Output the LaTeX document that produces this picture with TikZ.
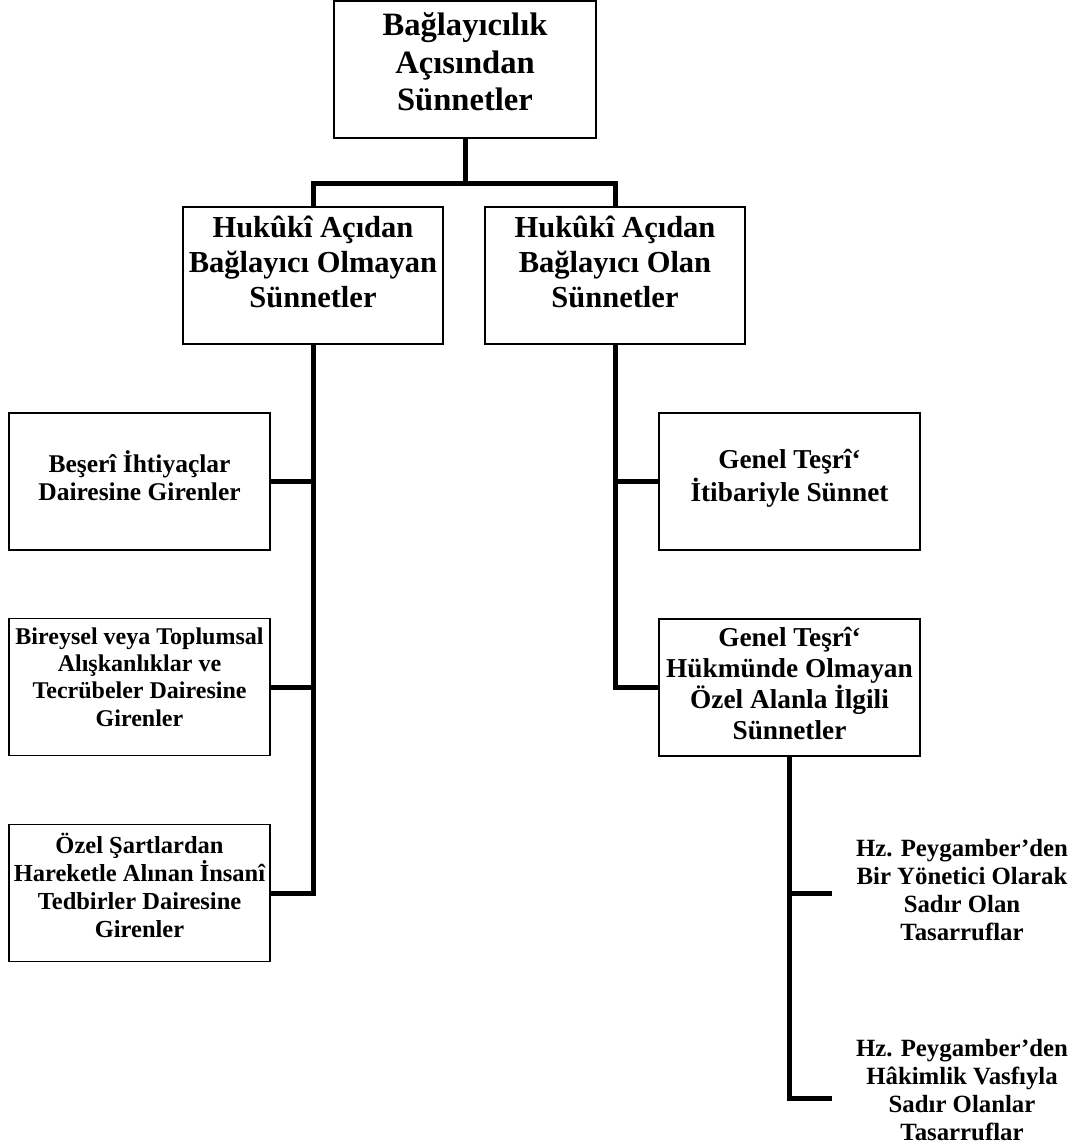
\documentclass[tikz,border=0pt]{standalone}
\usepackage{fontspec}
\setmainfont{Liberation Serif}
\begin{document}
\begin{tikzpicture}[x=1pt,y=-1pt,
  box/.style={draw, line width=1.2pt, minimum width=261pt, minimum height=137pt, inner sep=0pt},
  txt/.style 2 args={align=center, inner sep=0pt, font=\bfseries\fontsize{#1}{#2}\selectfont},
  conn/.style={line width=5pt}]
\useasboundingbox (0,0) rectangle (1078,1148);

% boxes
\node[box, minimum width=262pt] (top) at (465,69.5) {};
\node[box, minimum width=260pt] (lmid) at (313,275.5) {};
\node[box, minimum width=260pt] (rmid) at (615,275.5) {};
\node[box] (b1) at (139.5,481.5) {};
\node[box] (b2) at (139.5,687) {};
\node[box] (b3) at (139.5,893) {};
\node[box] (g1) at (789.5,481.5) {};
\node[box] (g2) at (789.5,687.5) {};

% box texts
\node[txt={32.6pt}{37.5pt}] (topt) at (465,62) {Bağlayıcılık\\Açısından\\Sünnetler};
\node[txt={30.5pt}{35pt}] (lmidt) at (313,262) {Hukûkî Açıdan\\Bağlayıcı Olmayan\\Sünnetler};
\node[txt={30.5pt}{35pt}] (rmidt) at (615,262) {Hukûkî Açıdan\\Bağlayıcı Olan\\Sünnetler};
\node[txt={25.5pt}{28pt}] (b1t) at (139.5,476) {Beşerî İhtiyaçlar\\Dairesine Girenler};
\node[txt={24pt}{27.3pt}] (b2t) at (139.5,677) {Bireysel veya Toplumsal\\Alışkanlıklar ve\\Tecrübeler Dairesine\\Girenler};
\node[txt={24.5pt}{28pt}] (b3t) at (139.5,885) {Özel Şartlardan\\Hareketle Alınan İnsanî\\Tedbirler Dairesine\\Girenler};
\node[txt={27.3pt}{33pt}] (g1t) at (789.5,478) {Genel Teşrî‘\\İtibariyle Sünnet};
\node[txt={27.3pt}{31pt}] (g2t) at (789.5,684) {Genel Teşrî‘\\Hükmünde Olmayan\\Özel Alanla İlgili\\Sünnetler};

% free-standing leaves
\node[txt={24.8pt}{28pt}] (hz1) at (962,890) {Hz. Peygamber’den\\Bir Yönetici Olarak\\Sadır Olan\\Tasarruflar};
\node[txt={24.8pt}{28pt}] (hz2) at (962,1090) {Hz. Peygamber’den\\Hâkimlik Vasfıyla\\Sadır Olanlar\\Tasarruflar};

% connectors
\coordinate (bus) at (465,183);
\coordinate (e1) at (832,893);
\coordinate (e2) at (832,1098);
\draw[conn] (top.south) -- (bus);
\draw[conn] (lmid.north) |- (bus) -| (rmid.north);
\draw[conn] (lmid.south) |- (b3.east);
\draw[conn] (b1.east) -- (b1.east -| lmid.south);
\draw[conn] (b2.east) -- (b2.east -| lmid.south);
\draw[conn] (rmid.south) |- (g2.west);
\draw[conn] (g1.west) -- (g1.west -| rmid.south);
\draw[conn] (g2.south) |- (e2);
\draw[conn] (e1) -- (e1 -| g2.south);
\end{tikzpicture}
\end{document}
